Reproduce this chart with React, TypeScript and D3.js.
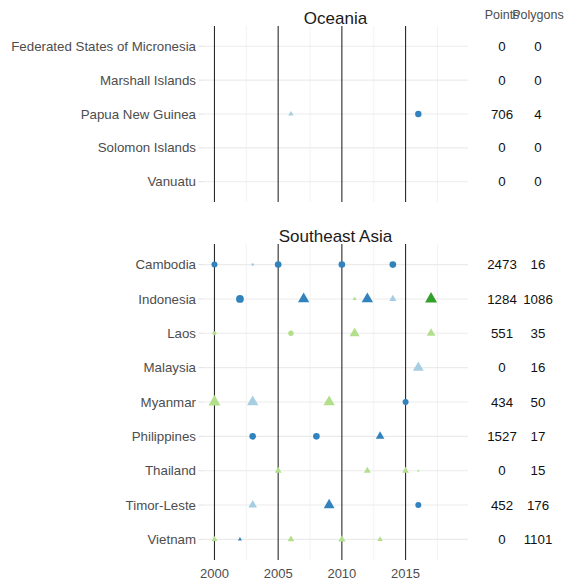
import React from "react";
import * as d3 from "d3";

const oceaniaCountries = [
  "Federated States of Micronesia",
  "Marshall Islands",
  "Papua New Guinea",
  "Solomon Islands",
  "Vanuatu",
];
const oceaniaPoints = [0, 0, 706, 0, 0];
const oceaniaPolygons = [0, 0, 4, 0, 0];

const seAsiaCountries = [
  "Cambodia",
  "Indonesia",
  "Laos",
  "Malaysia",
  "Myanmar",
  "Philippines",
  "Thailand",
  "Timor-Leste",
  "Vietnam",
];
const seAsiaPoints = [2473, 1284, 551, 0, 434, 1527, 0, 452, 0];
const seAsiaPolygons = [16, 1086, 35, 16, 50, 17, 15, 176, 1101];

const xTicks = [2000, 2005, 2010, 2015];
const xMinor = [2002.5, 2007.5, 2012.5, 2017.5];

const sources = ["A", "B", "C", "D"];
const sourceColors = ["#3182bd", "#a6cee3", "#b2df8a", "#33a02c"];

// [country, year, geometry, source, weight]
type Obs = [string, number, "point" | "polygon", string, number];
const observations: Obs[] = [
  ["Papua New Guinea", 2006, "polygon", "B", 16],
  ["Papua New Guinea", 2016, "point", "A", 41],
  ["Cambodia", 2000, "point", "A", 36],
  ["Cambodia", 2003, "point", "B", 7],
  ["Cambodia", 2005, "point", "A", 44],
  ["Cambodia", 2010, "point", "A", 44],
  ["Cambodia", 2014, "point", "A", 44],
  ["Indonesia", 2002, "point", "A", 61],
  ["Indonesia", 2007, "polygon", "A", 71],
  ["Indonesia", 2011, "polygon", "C", 9],
  ["Indonesia", 2012, "polygon", "A", 71],
  ["Indonesia", 2014, "polygon", "B", 29],
  ["Indonesia", 2017, "polygon", "D", 79],
  ["Laos", 2000, "point", "C", 16],
  ["Laos", 2006, "point", "C", 29],
  ["Laos", 2011, "polygon", "C", 55],
  ["Laos", 2017, "polygon", "C", 41],
  ["Malaysia", 2016, "polygon", "B", 64],
  ["Myanmar", 2000, "polygon", "C", 79],
  ["Myanmar", 2003, "polygon", "B", 71],
  ["Myanmar", 2009, "polygon", "C", 71],
  ["Myanmar", 2015, "point", "A", 36],
  ["Philippines", 2003, "point", "A", 44],
  ["Philippines", 2008, "point", "A", 44],
  ["Philippines", 2013, "polygon", "A", 41],
  ["Thailand", 2005, "polygon", "C", 25],
  ["Thailand", 2012, "polygon", "C", 25],
  ["Thailand", 2015, "polygon", "C", 25],
  ["Thailand", 2016, "polygon", "C", 4],
  ["Timor-Leste", 2003, "polygon", "B", 41],
  ["Timor-Leste", 2009, "polygon", "A", 64],
  ["Timor-Leste", 2016, "point", "A", 36],
  ["Vietnam", 2000, "polygon", "C", 19],
  ["Vietnam", 2002, "polygon", "A", 9],
  ["Vietnam", 2006, "polygon", "C", 25],
  ["Vietnam", 2010, "polygon", "C", 29],
  ["Vietnam", 2013, "polygon", "C", 16],
];

const W = 569;
const H = 584;
const FONT = "'Liberation Sans', Arial, Helvetica, sans-serif";

const x = d3.scaleLinear().domain([1999.1, 2019.9]).range([203, 468]);
const color = d3.scaleOrdinal<string, string>().domain(sources).range(sourceColors);
const rad = d3.scaleSqrt().domain([0, 100]).range([0, 5]);

function trianglePath(cx: number, cy: number, R: number) {
  const r = 1.5551 * R;
  const xc = 1.3468 * R;
  const yc = 0.7776 * R;
  const p = d3.path();
  p.moveTo(cx, cy - r);
  p.lineTo(cx + xc, cy + yc);
  p.lineTo(cx - xc, cy + yc);
  p.closePath();
  return p.toString();
}

type PanelProps = {
  title: string;
  titleY: number;
  top: number;
  bottom: number;
  countries: string[];
  points: number[];
  polygons: number[];
  showAxis: boolean;
};

function Panel({ title, titleY, top, bottom, countries, points, polygons, showAxis }: PanelProps) {
  const y = d3.scalePoint<string>().domain(countries).range([top, bottom]).padding(0.6);
  const obs = observations.filter((o) => countries.includes(o[0]));
  const [x0, x1] = x.range();
  return (
    <g>
      <text x={(x0 + x1) / 2} y={titleY} textAnchor="middle" fontSize={17} fill="#1a1a1a" fontFamily={FONT}>
        {title}
      </text>
      {xMinor.map((t) => (
        <line key={"mn" + t} x1={x(t)} x2={x(t)} y1={top} y2={bottom} stroke="#efefef" strokeWidth={0.8} />
      ))}
      {countries.map((c) => (
        <line key={"g" + c} x1={x0} x2={x1} y1={y(c)} y2={y(c)} stroke="#ebebeb" strokeWidth={1.1} />
      ))}
      {countries.map((c) => (
        <line key={"tk" + c} x1={198.5} x2={x0} y1={y(c)} y2={y(c)} stroke="#e0e0e0" strokeWidth={1} />
      ))}
      {xTicks.map((t) => (
        <line key={"v" + t} x1={x(t)} x2={x(t)} y1={top} y2={bottom} stroke="#2a2a2a" strokeWidth={1.1} />
      ))}
      {countries.map((c) => (
        <text key={"l" + c} x={196} y={(y(c) as number) + 4.6} textAnchor="end" fontSize={13.3} fill="#4d4d4d" fontFamily={FONT}>
          {c}
        </text>
      ))}
      {obs.map((o, i) => {
        const cx = x(o[1]);
        const cy = y(o[0]) as number;
        const R = rad(o[4]);
        const fill = color(o[3]);
        return o[2] === "point" ? (
          <circle key={"o" + i} cx={cx} cy={cy} r={R} fill={fill} />
        ) : (
          <path key={"o" + i} d={trianglePath(cx, cy, R)} fill={fill} />
        );
      })}
      {countries.map((c, i) => (
        <g key={"n" + c}>
          <text x={502} y={(y(c) as number) + 4.6} textAnchor="middle" fontSize={13.3} fill="#111" fontFamily={FONT}>
            {points[i]}
          </text>
          <text x={538} y={(y(c) as number) + 4.6} textAnchor="middle" fontSize={13.3} fill="#111" fontFamily={FONT}>
            {polygons[i]}
          </text>
        </g>
      ))}
      {showAxis &&
        xTicks.map((t) => (
          <text key={"xl" + t} x={x(t)} y={578} textAnchor="middle" fontSize={13} fill="#4d4d4d" fontFamily={FONT}>
            {t}
          </text>
        ))}
    </g>
  );
}

export default function App() {
  return (
    <svg
      width={W}
      height={H}
      viewBox={`0 0 ${W} ${H}`}
      style={{ position: "absolute", left: 0, top: 0, display: "block", background: "#fff" }}
    >
      <rect width={W} height={H} fill="#fff" />
      <text x={502} y={19} textAnchor="middle" fontSize={12.5} fill="#4d4d4d" fontFamily={FONT}>
        Points
      </text>
      <text x={538} y={19} textAnchor="middle" fontSize={12.5} fill="#4d4d4d" fontFamily={FONT}>
        Polygons
      </text>
      <Panel
        title="Oceania"
        titleY={23.5}
        top={26}
        bottom={202}
        countries={oceaniaCountries}
        points={oceaniaPoints}
        polygons={oceaniaPolygons}
        showAxis={false}
      />
      <Panel
        title="Southeast Asia"
        titleY={242}
        top={244}
        bottom={560}
        countries={seAsiaCountries}
        points={seAsiaPoints}
        polygons={seAsiaPolygons}
        showAxis={true}
      />
    </svg>
  );
}
